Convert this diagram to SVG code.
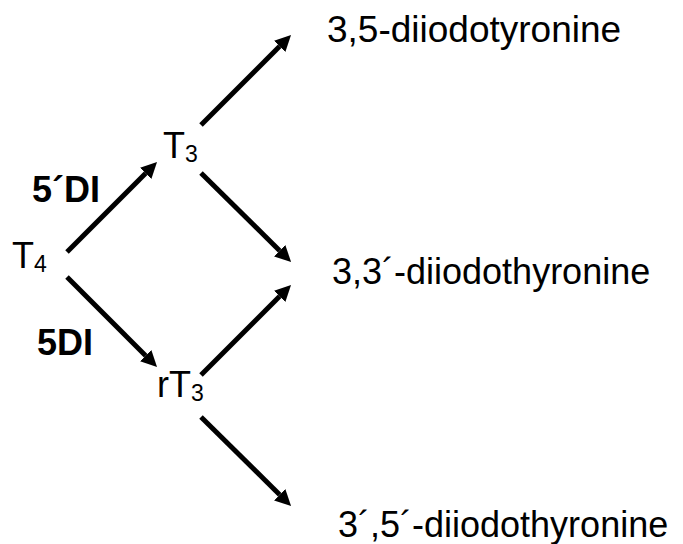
<svg xmlns="http://www.w3.org/2000/svg" width="683" height="544" viewBox="0 0 683 544">
<style>
text{font-family:"Liberation Sans",Arial,sans-serif;font-size:36px;fill:#000}
.b{font-weight:bold}
.s{font-size:23px}
.c line{stroke:#000;stroke-width:5;marker-end:url(#ah)}
</style>
<defs>
<marker id="ah" markerUnits="userSpaceOnUse" viewBox="0 -8 16 16" markerWidth="16" markerHeight="16" refX="0" refY="0" orient="auto">
<path d="M0,-8 L16,0 L0,8 z" fill="#000"/>
</marker>
</defs>
<rect width="683" height="544" fill="#fff"/>
<g id="connectors" class="c">
<line x1="67" y1="252" x2="145.7" y2="173.3"/>
<line x1="67" y1="277" x2="145.7" y2="355.7"/>
<line x1="201" y1="125" x2="279.7" y2="46.3"/>
<line x1="201" y1="173" x2="279.7" y2="250.7"/>
<line x1="201" y1="375" x2="279.7" y2="296.3"/>
<line x1="201" y1="417" x2="279.7" y2="494.7"/>
</g>
<g id="T4"><text x="12" y="268">T<tspan class="s" dy="4">4</tspan></text></g>
<g id="T3"><text x="163" y="158">T<tspan class="s" dy="4">3</tspan></text></g>
<g id="rT3"><text x="157" y="397">rT<tspan class="s" dy="4">3</tspan></text></g>
<g id="label-5pDI"><text class="b" x="32" y="202">5´DI</text></g>
<g id="label-5DI"><text class="b" x="37" y="355">5DI</text></g>
<g id="d35"><text x="327" y="42" style="font-size:37px">3,5-diiodotyronine</text></g>
<g id="d33p"><text x="332" y="284">3,3´-diiodothyronine</text></g>
<g id="d3p5p"><text x="338" y="537">3´,5´-diiodothyronine</text></g>
</svg>
